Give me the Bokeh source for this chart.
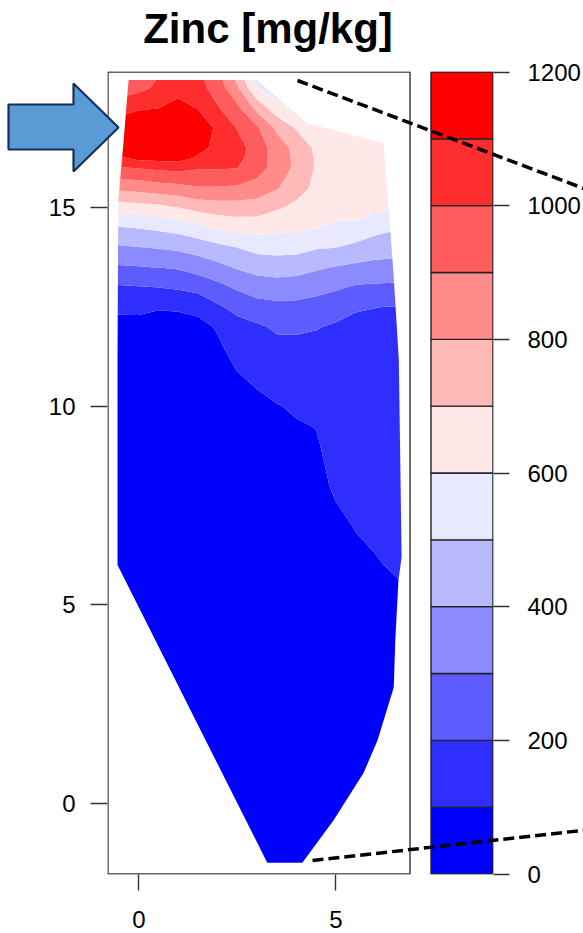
import numpy as np
from bokeh.plotting import figure
from bokeh.models import Range1d, LinearAxis, FixedTicker
from bokeh.core.properties import value
from bokeh.embed import file_html
from bokeh.resources import INLINE

# ------------------------------------------------------------------ data
title_text = "Zinc [mg/kg]"
levels = [0, 100, 200, 300, 400, 500, 600, 700, 800, 900, 1000, 1100, 1200]
palette = ["#0000FF", "#2E2EFF", "#5D5DFF", "#8B8BFF", "#B9B9FF", "#E8E8FF",
           "#FFE8E8", "#FFB9B9", "#FF8B8B", "#FF5D5D", "#FF2E2E", "#FF0000"]
colorbar_ticks = [0, 200, 400, 600, 800, 1000, 1200]
x_ticks = [0, 5]
y_ticks = [0, 5, 10, 15]

grid_x = [-0.6, 0, 0.5, 1, 1.5, 2, 2.5, 3, 3.5, 4, 4.5, 5, 5.5, 6, 6.75]
grid_y = [-1.6, 5, 6, 7, 8, 9, 9.5, 10, 10.5, 11, 11.5, 12, 12.5, 13, 13.5,
          14, 14.5, 15, 15.5, 16, 16.25, 16.5, 17, 17.5, 18, 18.3]
zinc_col_m06 = [20, 25, 30, 35, 40, 45, 48, 50, 55, 58, 62, 65, 123, 188, 288, 386, 493, 645, 824, 991, 1076, 1140, 1160, 1050, 950, 930]
zinc_col_00 = [20, 25, 30, 35, 40, 45, 48, 50, 55, 58, 60, 63, 125, 196, 296, 398, 506, 660, 838, 1006, 1128, 1160, 1180, 1090, 975, 960]
zinc_col_05 = [20, 25, 30, 35, 40, 45, 48, 50, 55, 58, 60, 62, 108, 202, 302, 408, 520, 670, 860, 1020, 1135, 1175, 1195, 1100, 1020, 1000]
zinc_col_10 = [20, 25, 30, 35, 40, 45, 48, 50, 55, 58, 60, 62, 112, 214, 312, 420, 540, 700, 870, 1030, 1145, 1185, 1195, 1140, 1060, 1040]
zinc_col_15 = [20, 25, 30, 35, 40, 45, 48, 50, 55, 60, 65, 75, 125, 235, 340, 445, 570, 735, 895, 1010, 1085, 1135, 1170, 1095, 1040, 1020]
zinc_col_20 = [20, 25, 30, 35, 40, 45, 50, 55, 65, 75, 88, 108, 186, 273, 372, 473, 615, 750, 895, 1010, 1045, 1070, 1080, 1010, 955, 940]
zinc_col_25 = [20, 25, 30, 35, 45, 55, 62, 70, 85, 105, 130, 165, 230, 315, 410, 502, 635, 755, 885, 1002, 1025, 1035, 995, 925, 815, 760]
zinc_col_30 = [20, 30, 35, 40, 50, 62, 72, 82, 103, 125, 150, 185, 265, 345, 440, 530, 640, 750, 860, 945, 955, 960, 915, 770, 605, 550]
zinc_col_35 = [20, 30, 40, 48, 58, 72, 84, 96, 125, 150, 175, 215, 275, 355, 450, 535, 630, 710, 810, 855, 855, 850, 780, 640, 540, 520]
zinc_col_40 = [20, 35, 45, 55, 65, 80, 94, 110, 135, 160, 182, 212, 275, 350, 440, 535, 620, 680, 735, 780, 778, 770, 690, 575, 540, 520]
zinc_col_45 = [20, 40, 50, 60, 75, 92, 102, 120, 135, 155, 175, 206, 260, 335, 415, 510, 605, 650, 680, 690, 688, 680, 640, 610, 590, 580]
zinc_col_50 = [20, 45, 60, 82, 112, 128, 135, 142, 150, 160, 175, 188, 240, 315, 395, 502, 585, 630, 645, 650, 650, 650, 640, 630, 620, 615]
zinc_col_55 = [20, 55, 80, 104, 125, 140, 146, 152, 160, 168, 178, 180, 208, 290, 380, 475, 580, 640, 655, 660, 660, 660, 655, 650, 645, 640]
zinc_col_60 = [25, 65, 92, 120, 135, 148, 153, 158, 165, 172, 180, 186, 201, 285, 370, 450, 535, 625, 650, 660, 660, 660, 655, 650, 645, 640]
zinc_col_675 = [30, 80, 120, 140, 150, 160, 164, 168, 172, 177, 182, 188, 196, 280, 365, 440, 502, 603, 640, 655, 658, 660, 655, 650, 645, 640]

# outline of the study area (map units)
boundary_x = [-0.26, 3.00, 4.27, 6.21, 6.39, 6.47, 6.60, 6.67, 6.59, 6.51, 6.47,
              6.06, 5.70, 4.94, 4.15, 3.26, -0.54, -0.54, -0.52, -0.39]
boundary_y = [18.21, 18.21, 17.12, 16.62, 14.36, 13.25, 11.16, 6.20, 5.62, 4.11, 2.92,
              1.59, 0.76, -0.43, -1.49, -1.49, 6.00, 11.16, 15.19, 16.62]

# ------------------------------------------------------------------ layout helpers (pixels of the page)
X0_PX, X_SCALE = 138.3, 39.4
Y0_PX, Y_SCALE = 803.0, 39.73
def dx(px):
    return (px - X0_PX) / X_SCALE
def dy(py):
    return (Y0_PX - py) / Y_SCALE

FR_L, FR_R, FR_T, FR_B = 107, 493, 71, 874
W, H = 583, 933

p = figure(width=W, height=H, output_backend="svg", toolbar_location=None,
           x_range=Range1d(dx(FR_L), dx(FR_R)), y_range=Range1d(dy(FR_B), dy(FR_T)),
           x_axis_location=None, y_axis_location=None,
           min_border_left=FR_L, min_border_right=W - FR_R,
           min_border_top=FR_T, min_border_bottom=H - FR_B)
p.xgrid.visible = False
p.ygrid.visible = False
p.outline_line_color = None
p.background_fill_color = "white"
p.border_fill_color = "white"

# colour-bar coordinate systems
cb_px_per_unit = (FR_B - 0.5 - (FR_T + 0.5)) / 1200.0
p.extra_y_ranges = {"cbar": Range1d(-(0.5) / cb_px_per_unit, 1200 + 0.5 / cb_px_per_unit)}
p.extra_x_ranges = {"cbx": Range1d((FR_L - 430.5) / 62.0, (FR_R - 430.5) / 62.0)}

# ------------------------------------------------------------------ filled contours
cols = [zinc_col_m06, zinc_col_00, zinc_col_05, zinc_col_10, zinc_col_15, zinc_col_20,
        zinc_col_25, zinc_col_30, zinc_col_35, zinc_col_40, zinc_col_45, zinc_col_50,
        zinc_col_55, zinc_col_60, zinc_col_675]
Z = np.array(cols, dtype=float).T
XX, YY = np.meshgrid(np.array(grid_x, float), np.array(grid_y, float))
cr = p.contour(XX, YY, Z, levels, fill_color=palette, line_color=None)
cr.fill_renderer.glyph.line_color = cr.fill_renderer.glyph.fill_color
cr.fill_renderer.glyph.line_width = 0.6

# white mask outside study area
ox = [-3, 7.2, 7.2, -3]
oy = [-4, -4, 21, 21]
p.multi_polygons(xs=[[[ox, boundary_x]]], ys=[[[oy, boundary_y]]],
                 fill_color="white", line_color=None)

# plot box
p.quad(left=dx(107.5), right=dx(409.5), bottom=dy(873.5), top=dy(71.5),
       fill_color=None, line_color="#333333", line_width=1.4)

# colour bar
p.quad(left=0, right=1, bottom=levels[:-1], top=levels[1:], fill_color=palette,
       line_color="#222222", line_width=1.4, x_range_name="cbx", y_range_name="cbar")

# ------------------------------------------------------------------ axes
def style_axis(ax, tick_out, standoff):
    ax.axis_line_color = None
    ax.major_tick_out = tick_out
    ax.major_tick_in = 0
    ax.minor_tick_out = 0
    ax.minor_tick_in = 0
    ax.major_tick_line_color = "#333333"
    ax.major_tick_line_width = 1.4
    ax.major_label_text_font = "Liberation Sans"
    ax.major_label_text_font_size = "24px"
    ax.major_label_text_color = "black"
    ax.major_label_standoff = standoff

yax = LinearAxis(ticker=FixedTicker(ticks=y_ticks))
style_axis(yax, 17, 15)
p.add_layout(yax, "left")

xax = LinearAxis(ticker=FixedTicker(ticks=x_ticks))
style_axis(xax, 16, 20)
p.add_layout(xax, "below")

cax = LinearAxis(ticker=FixedTicker(ticks=colorbar_ticks), y_range_name="cbar")
style_axis(cax, 16, 18)
p.add_layout(cax, "right")

# ------------------------------------------------------------------ title (drawn above the frame)
p.text(x=[dx(267.5)], y=[dy(28.0)], text=[title_text],
       text_font=value("Liberation Sans"), text_font_size="42px", text_font_style="bold",
       text_color="black", text_align="center", text_baseline="alphabetic", level="overlay")

# ------------------------------------------------------------------ pointer arrow and zoom lines (page decoration)
arrow_px = [(8, 104), (73, 104), (73, 83), (118, 127), (73, 171), (73, 149), (8, 149)]
p.patch([dx(a) for a, b in arrow_px], [dy(b) for a, b in arrow_px],
        fill_color="#5B9BD5", line_color="#14305E", line_width=2.2, level="overlay")

zoom_lines_px = [((297, 80), (590, 190.5)), ((312, 860), (590, 829))]
p.segment(x0=[dx(a[0]) for a, b in zoom_lines_px], y0=[dy(a[1]) for a, b in zoom_lines_px],
          x1=[dx(b[0]) for a, b in zoom_lines_px], y1=[dy(b[1]) for a, b in zoom_lines_px],
          line_color="black", line_width=3.5, line_dash="11 5", level="overlay")

open("out.html", "w").write(file_html(p, INLINE))
